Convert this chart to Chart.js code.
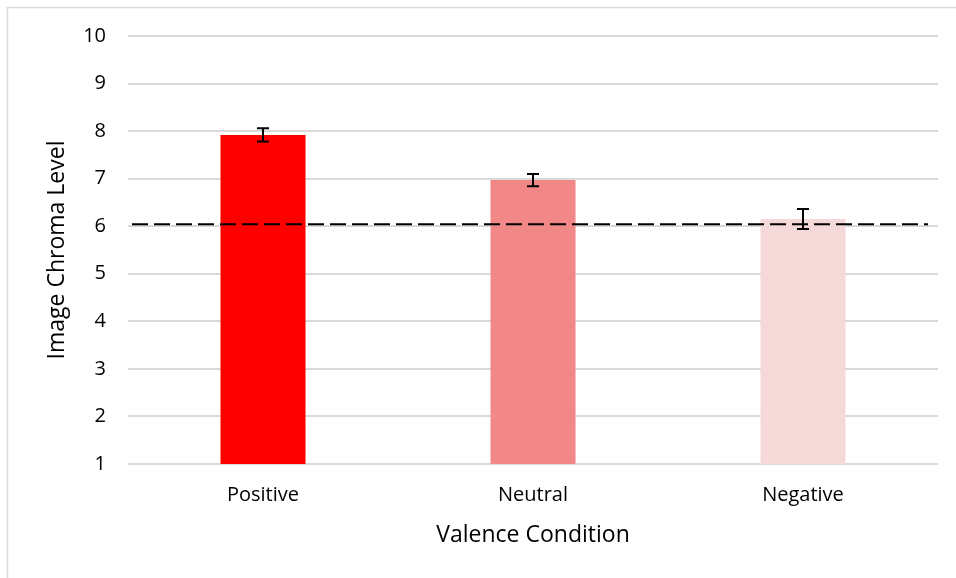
<!DOCTYPE html>
<html lang="en">
<head>
  <meta charset="UTF-8">
  <title>Image Chroma Level</title>
  <script src="https://cdn.jsdelivr.net/npm/chart.js"></script>
  <style>
    html, body { margin: 0; padding: 0; background: #fff; }
    #wrap { width: 956px; height: 578px; }
  </style>
</head>
<body>
  <div id="wrap"><canvas id="chromaChart" width="956" height="578"></canvas></div>

  <script>
    // data
    const conditions = ["Positive", "Neutral", "Negative"];
    const chromaMeans = [7.92, 6.97, 6.15];
    const chromaErrors = [0.14, 0.13, 0.21];
    const barColors = ["#ff0000", "#f28787", "#f5d9d9"];
    const baselineValue = 6.04;
    const yTicks = [1, 2, 3, 4, 5, 6, 7, 8, 9, 10];

    const fontFamily = "'Open Sans', 'Noto Sans', sans-serif";

    // light frame around the chart (only top and left show in the picture)
    const framePlugin = {
      id: "frame",
      beforeDraw(chart) {
        const ctx = chart.ctx;
        ctx.save();
        ctx.fillStyle = "#ffffff";
        ctx.fillRect(0, 0, chart.width, chart.height);
        ctx.strokeStyle = "#d9d9d9";
        ctx.lineWidth = 1.5;
        ctx.strokeRect(7.5, 7.5, chart.width + 20, chart.height + 20);
        ctx.restore();
      }
    };

    // dashed reference line
    const baselinePlugin = {
      id: "baseline",
      afterDatasetsDraw(chart) {
        const ctx = chart.ctx;
        const y = chart.scales.y.getPixelForValue(baselineValue);
        const area = chart.chartArea;
        ctx.save();
        ctx.strokeStyle = "#000000";
        ctx.lineWidth = 2;
        ctx.setLineDash([16, 6]);
        ctx.beginPath();
        ctx.moveTo(area.left + 4, y);
        ctx.lineTo(area.right - 10, y);
        ctx.stroke();
        ctx.restore();
      }
    };

    // error bars
    const errorBarPlugin = {
      id: "errorBars",
      afterDatasetsDraw(chart) {
        const ctx = chart.ctx;
        const yScale = chart.scales.y;
        const meta = chart.getDatasetMeta(0);
        ctx.save();
        ctx.strokeStyle = "#000000";
        ctx.lineWidth = 2;
        meta.data.forEach((bar, i) => {
          const x = bar.x;
          const top = yScale.getPixelForValue(chromaMeans[i] + chromaErrors[i]);
          const bottom = yScale.getPixelForValue(chromaMeans[i] - chromaErrors[i]);
          ctx.beginPath();
          ctx.moveTo(x, top);
          ctx.lineTo(x, bottom);
          ctx.moveTo(x - 6, top);
          ctx.lineTo(x + 6, top);
          ctx.moveTo(x - 6, bottom);
          ctx.lineTo(x + 6, bottom);
          ctx.stroke();
        });
        ctx.restore();
      }
    };

    const ctx = document.getElementById("chromaChart").getContext("2d");
    new Chart(ctx, {
      type: "bar",
      data: {
        labels: conditions,
        datasets: [{
          data: chromaMeans,
          backgroundColor: barColors,
          borderWidth: 0,
          categoryPercentage: 1,
          barPercentage: 0.315
        }]
      },
      options: {
        responsive: false,
        animation: false,
        layout: { padding: { top: 36, right: 18, left: 32, bottom: 24 } },
        plugins: {
          legend: { display: false },
          tooltip: { enabled: false }
        },
        scales: {
          x: {
            grid: { display: false, drawTicks: false },
            border: { display: false },
            ticks: {
              color: "#000000",
              padding: 19,
              font: { family: fontFamily, size: 20 }
            },
            title: {
              display: true,
              text: "Valence Condition",
              color: "#000000",
              padding: { top: 0, bottom: 5 },
              font: { family: fontFamily, size: 23 }
            },
            afterFit(scale) { scale.height = 578 - 464 - 24; }
          },
          y: {
            min: 1,
            max: 10,
            afterBuildTicks(scale) {
              scale.ticks = yTicks.map(v => ({ value: v }));
            },
            grid: { color: "#d9d9d9", lineWidth: 2, drawTicks: false },
            border: { display: false },
            ticks: {
              color: "#000000",
              padding: 22,
              font: { family: fontFamily, size: 20 }
            },
            title: {
              display: true,
              text: "Image Chroma Level",
              color: "#000000",
              padding: { top: 12, bottom: 0 },
              font: { family: fontFamily, size: 23 }
            },
            afterFit(scale) { scale.width = 128 - 32; }
          }
        }
      },
      plugins: [framePlugin, baselinePlugin, errorBarPlugin]
    });
  </script>
</body>
</html>
